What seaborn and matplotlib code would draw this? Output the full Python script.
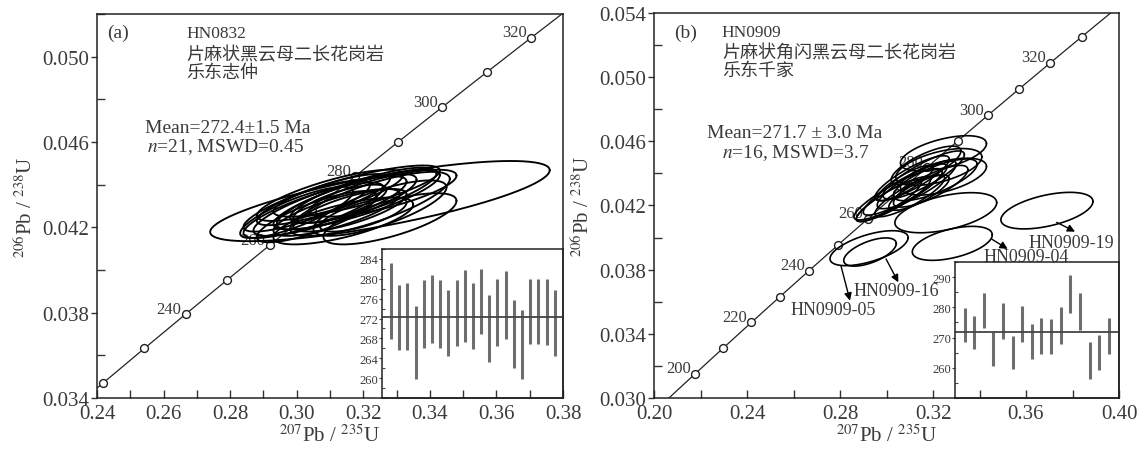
import numpy as np
import pandas as pd
import matplotlib
matplotlib.use("Agg")
import matplotlib.pyplot as plt
from matplotlib.ticker import MultipleLocator, FixedLocator
import seaborn as sns

# ---------------- data ----------------
L238 = 1.55125e-4   # decay constants, 1/Ma
L235 = 9.8485e-4

# panel (a) HN0832
a_xticks = [0.24, 0.26, 0.28, 0.30, 0.32, 0.34, 0.36, 0.38]
a_yticks = [0.034, 0.038, 0.042, 0.046, 0.050]
a_marker_ages = [220, 230, 240, 250, 260, 270, 280, 290, 300, 310, 320]
a_label_ages = [240, 260, 280, 300, 320]
a_cx = [0.325, 0.305, 0.310, 0.315, 0.318, 0.312, 0.308, 0.320, 0.322, 0.306, 0.316,
        0.318, 0.310, 0.325, 0.303, 0.314, 0.320, 0.326, 0.313, 0.328, 0.300]
a_cy = [0.04323, 0.0428, 0.0430, 0.0432, 0.0433, 0.0427, 0.0433, 0.0435, 0.0431, 0.0425, 0.0428,
        0.0437, 0.0435, 0.0429, 0.0430, 0.0423, 0.0426, 0.0436, 0.0431, 0.0424, 0.0427]
a_sx = [0.051, 0.021, 0.023, 0.021, 0.025, 0.019, 0.020, 0.022, 0.024, 0.018, 0.017,
        0.025, 0.022, 0.020, 0.019, 0.021, 0.013, 0.022, 0.014, 0.020, 0.017]
a_sy = [0.00188, 0.0013, 0.0014, 0.0013, 0.0014, 0.0011, 0.0012, 0.0013, 0.0015, 0.0012, 0.0010,
        0.0012, 0.0012, 0.0013, 0.0012, 0.0011, 0.0008, 0.0011, 0.0009, 0.0012, 0.0012]
a_rho = [0.77, 0.82, 0.82, 0.80, 0.82, 0.78, 0.82, 0.80, 0.78, 0.80, 0.75,
         0.80, 0.80, 0.75, 0.82, 0.70, 0.70, 0.75, 0.75, 0.70, 0.82]
a_bar_hi = [283.1, 278.7, 279.1, 274.5, 279.8, 280.8, 279.8, 277.8, 279.8, 281.8, 279.1,
            281.9, 276.8, 279.9, 281.5, 275.8, 273.8, 279.9, 279.9, 279.9, 277.8]
a_bar_lo = [267.8, 265.7, 265.7, 259.8, 266.1, 267.0, 266.1, 264.5, 266.5, 267.3, 265.8,
            268.8, 263.3, 266.5, 267.8, 262.0, 259.9, 266.8, 266.8, 266.6, 264.5]
a_mean = 272.4
a_inset_yticks = [260, 264, 268, 272, 276, 280, 284]

# panel (b) HN0909
b_xticks = [0.20, 0.24, 0.28, 0.32, 0.36, 0.40]
b_yticks = [0.030, 0.034, 0.038, 0.042, 0.046, 0.050, 0.054]
b_marker_ages = [200, 210, 220, 230, 240, 250, 260, 270, 280, 290, 300, 310, 320, 330]
b_label_ages = [200, 220, 240, 260, 280, 300, 320]
b_cx = [0.3245, 0.3225, 0.3245, 0.3050, 0.3080, 0.3130, 0.3110, 0.3160, 0.3030, 0.3190, 0.3080,
        0.3140, 0.3170, 0.3010, 0.3210, 0.3100,
        0.3255, 0.3690, 0.3283, 0.2925, 0.2929]
b_cy = [0.04525, 0.0444, 0.0438, 0.0427, 0.0430, 0.0433, 0.0437, 0.0439, 0.0424, 0.0432, 0.0434,
        0.0428, 0.0445, 0.0423, 0.0436, 0.0426,
        0.04155, 0.04168, 0.03964, 0.03934, 0.0391]
b_sx = [0.0185, 0.0185, 0.0185, 0.0190, 0.0180, 0.0170, 0.0160, 0.0175, 0.0160, 0.0160, 0.0120,
        0.0130, 0.0150, 0.0140, 0.0180, 0.0150,
        0.0219, 0.0198, 0.0172, 0.0168, 0.0113]
b_sy = [0.00110, 0.00115, 0.00115, 0.00160, 0.00160, 0.00150, 0.00140, 0.00150, 0.00140, 0.00130, 0.00110,
        0.00110, 0.00120, 0.00130, 0.00130, 0.00130,
        0.00125, 0.00114, 0.00106, 0.00109, 0.00088]
b_rho = [0.55, 0.55, 0.55, 0.88, 0.88, 0.85, 0.85, 0.85, 0.88, 0.80, 0.85,
         0.80, 0.75, 0.88, 0.75, 0.85,
         0.50, 0.50, 0.50, 0.60, 0.60]
b_bar_hi = [279.8, 277.2, 284.8, 271.8, 281.3, 270.6, 280.6, 274.6, 276.4, 276.1, 280.0,
            290.6, 284.8, 268.4, 270.9, 276.4]
b_bar_lo = [268.4, 266.1, 273.1, 260.6, 269.6, 259.6, 268.4, 262.8, 264.6, 264.6, 267.9,
            278.1, 272.6, 256.2, 259.4, 264.6]
b_mean = 271.7
b_inset_yticks = [260, 270, 280, 290]
b_out_labels = ["HN0909-19", "HN0909-04", "HN0909-16", "HN0909-05"]
b_out_label_xy = [(0.3795, 0.0397), (0.3600, 0.03882), (0.3041, 0.03668), (0.2771, 0.03554)]
b_arrow_from = [(0.3732, 0.04095), (0.3452, 0.03991), (0.2998, 0.03867), (0.2804, 0.03825)]
b_arrow_to = [(0.3811, 0.04037), (0.3521, 0.03929), (0.3051, 0.03721), (0.2843, 0.03607)]

# ---------------- style ----------------
sns.set_theme(style="ticks")
plt.rcParams["font.family"] = ["Liberation Serif", "Noto Sans CJK SC"]
plt.rcParams["mathtext.fontset"] = "stix"
TXT = "#3a3a3a"
plt.rcParams["text.color"] = TXT

fig = plt.figure(figsize=(11.44, 4.52), dpi=100)
W, H = 1144, 452


def pos(l, r, t, b):
    return [l / W, (H - b) / H, (r - l) / W, (b - t) / H]


def concordia(ages):
    ages = np.asarray(ages, float)
    return np.exp(L235 * ages) - 1, np.exp(L238 * ages) - 1


def ellipse_frame(cx, cy, sx, sy, rho):
    t = np.linspace(0, 2 * np.pi, 181)
    rows = []
    for i, (x0, y0, a, b, r) in enumerate(zip(cx, cy, sx, sy, rho)):
        xs = x0 + a * np.cos(t)
        ys = y0 + b * (r * np.cos(t) + np.sqrt(1 - r * r) * np.sin(t))
        rows.append(pd.DataFrame({"x": xs, "y": ys, "id": i}))
    return pd.concat(rows, ignore_index=True)


def style_main(ax, xlim, ylim, xticks, xmin, yticks, ymin, xfmt, yfmt):
    ax.set_xlim(*xlim)
    ax.set_ylim(*ylim)
    ax.xaxis.set_major_locator(FixedLocator(xticks))
    ax.xaxis.set_minor_locator(MultipleLocator(xmin))
    ax.yaxis.set_major_locator(FixedLocator(yticks))
    ax.yaxis.set_minor_locator(MultipleLocator(ymin))
    ax.xaxis.set_major_formatter(plt.FuncFormatter(lambda v, p: xfmt % v))
    ax.yaxis.set_major_formatter(plt.FuncFormatter(lambda v, p: yfmt % v))
    ax.tick_params(axis="x", which="both", direction="in", length=6, width=1,
                   labelsize=15, labelcolor=TXT, pad=4, color="#333")
    ax.tick_params(axis="y", which="major", direction="out", length=4.5, width=1,
                   labelsize=15, labelcolor=TXT, pad=1, color="#333")
    ax.tick_params(axis="y", which="minor", direction="in", length=6, width=1, color="#333")
    for s in ax.spines.values():
        s.set_visible(True)
        s.set_linewidth(1.1)
        s.set_color("#222")


def draw_concordia(ax, marker_ages, label_ages):
    ages = np.linspace(150, 400, 600)
    cx, cy = concordia(ages)
    sns.lineplot(x=cx, y=cy, sort=False, estimator=None, color="#222", lw=0.9, ax=ax)
    mx, my = concordia(marker_ages)
    sns.scatterplot(x=mx, y=my, s=32, facecolor="white", edgecolor="#222",
                    linewidth=1.0, zorder=3, ax=ax)
    lx, ly = concordia(label_ages)
    for a, x, y in zip(label_ages, lx, ly):
        ax.annotate(str(a), (x, y), xytext=(-3, 4), textcoords="offset points",
                    ha="right", va="center", fontsize=12, color=TXT, zorder=2.5)


def draw_inset(rect, hi, lo, mean, ylim, yticks, ymin, xlim):
    ins = fig.add_axes(rect, facecolor="none")
    idx = np.arange(1, len(hi) + 1)
    ins.vlines(idx, lo, hi, color="#6e6e6e", lw=2.2)
    ins.axhline(mean, color="#444", lw=1.3)
    ins.set_xlim(*xlim)
    ins.set_ylim(*ylim)
    ins.set_xticks([])
    ins.yaxis.set_major_locator(FixedLocator(yticks))
    ins.yaxis.set_minor_locator(MultipleLocator(ymin))
    ins.tick_params(axis="y", which="major", direction="out", length=2.5, width=0.8,
                    labelsize=9, labelcolor=TXT, pad=0.5, color="#444")
    ins.tick_params(axis="y", which="minor", direction="in", length=2.5, width=0.8, color="#444")
    for s in ins.spines.values():
        s.set_linewidth(1.1)
        s.set_color("#222")
    return ins


def labels(ax):
    ax.set_xlabel(r"$^{207}$Pb / $^{235}$U", fontsize=15, color=TXT, labelpad=1)
    ax.set_ylabel(r"$^{206}$Pb / $^{238}$U", fontsize=15, color=TXT, labelpad=4)


# ---------------- panel (a) ----------------
axa = fig.add_axes(pos(97, 563, 15, 399))
style_main(axa, (0.24, 0.38), (0.034, 0.052), a_xticks, 0.01, a_yticks, 0.002, "%.2f", "%.3f")
draw_concordia(axa, a_marker_ages, a_label_ages)
sns.lineplot(data=ellipse_frame(a_cx, a_cy, a_sx, a_sy, a_rho), x="x", y="y", units="id",
             estimator=None, sort=False, color="black", lw=1.35, ax=axa, zorder=5)
labels(axa)
axa.text(0.243, 0.05113, "(a)", fontsize=14, va="center", ha="left")
axa.text(0.2669, 0.05113, "HN0832", fontsize=12.5, va="center", ha="left")
axa.text(0.2669, 0.05010, "片麻状黑云母二长花岗岩", fontsize=13, va="center", ha="left")
axa.text(0.2669, 0.04928, "乐东志仲", fontsize=13, va="center", ha="left")
axa.text(0.2793, 0.04670, "Mean=272.4±1.5 Ma", fontsize=14, va="center", ha="center")
axa.text(0.2787, 0.04581, r"$n$=21, MSWD=0.45", fontsize=14, va="center", ha="center")

draw_inset(pos(382, 563, 250, 399), a_bar_hi, a_bar_lo, a_mean, (256, 286),
           a_inset_yticks, 2, (-0.1, 22.0))

# ---------------- panel (b) ----------------
axb = fig.add_axes(pos(654, 1119, 14, 399))
style_main(axb, (0.20, 0.40), (0.030, 0.054), b_xticks, 0.02, b_yticks, 0.002, "%.2f", "%.3f")
draw_concordia(axb, b_marker_ages, b_label_ages)
sns.lineplot(data=ellipse_frame(b_cx, b_cy, b_sx, b_sy, b_rho), x="x", y="y", units="id",
             estimator=None, sort=False, color="black", lw=1.2, ax=axb, zorder=5)
labels(axb)
axb.text(0.2085, 0.0528, "(b)", fontsize=14, va="center", ha="left")
axb.text(0.2292, 0.0528, "HN0909", fontsize=12.5, va="center", ha="left")
axb.text(0.2292, 0.05155, "片麻状角闪黑云母二长花岗岩", fontsize=13, va="center", ha="left")
axb.text(0.2292, 0.0504, "乐东千家", fontsize=13, va="center", ha="left")
axb.text(0.2605, 0.04656, "Mean=271.7 ± 3.0 Ma", fontsize=14, va="center", ha="center")
axb.text(0.2608, 0.0453, r"$n$=16, MSWD=3.7", fontsize=14, va="center", ha="center")
for lab, (tx, ty), p0, p1 in zip(b_out_labels, b_out_label_xy, b_arrow_from, b_arrow_to):
    axb.text(tx, ty, lab, fontsize=13, ha="center", va="center", zorder=6)
    axb.annotate("", xy=p1, xytext=p0, zorder=6,
                 arrowprops=dict(arrowstyle="-|>", color="black", lw=1.0,
                                 mutation_scale=11, shrinkA=0, shrinkB=0))

draw_inset(pos(955, 1119, 263, 399), b_bar_hi, b_bar_lo, b_mean, (250, 295),
           b_inset_yticks, 5, (0.0, 17.07))

fig.savefig("out.png", dpi=100)
